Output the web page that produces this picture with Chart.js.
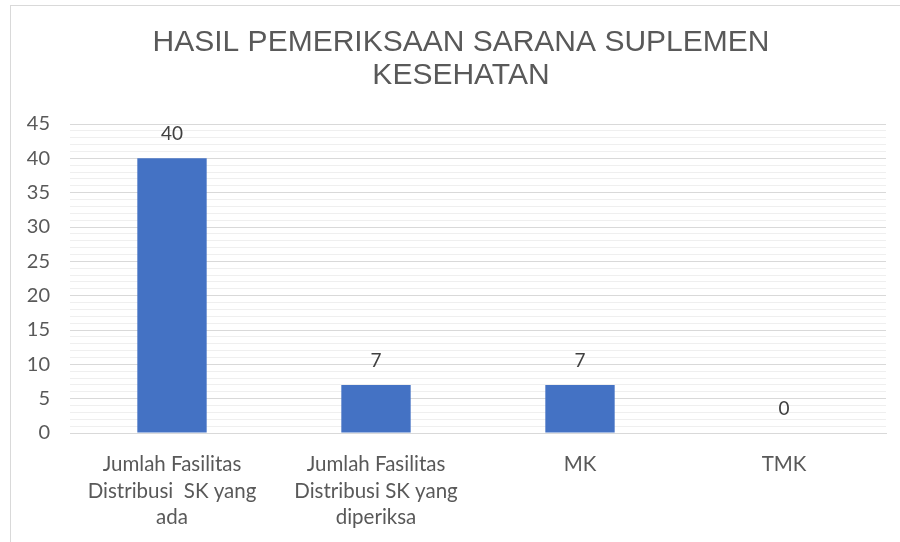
<!DOCTYPE html>
<html>
<head>
<meta charset="utf-8">
<script src="https://cdn.jsdelivr.net/npm/chart.js@4"></script>
<style>
  html, body { margin: 0; padding: 0; background: #fff; }
  #wrap { position: relative; width: 900px; height: 542px; }
  #frame { position: absolute; left: 10px; top: 5px; width: 960px; height: 600px;
           border-left: 1px solid #d9d9d9; border-top: 1px solid #d9d9d9; pointer-events: none; }
</style>
</head>
<body>
<div id="wrap">
  <canvas id="chart" width="900" height="542"></canvas>
  <div id="frame"></div>
</div>
<script>
const titleLines = ['HASIL PEMERIKSAAN SARANA SUPLEMEN', 'KESEHATAN'];
const categories = [
  ['Jumlah Fasilitas', 'Distribusi  SK yang', 'ada'],
  ['Jumlah Fasilitas', 'Distribusi SK yang', 'diperiksa'],
  'MK',
  'TMK'
];
const values = [40, 7, 7, 0];
const yMax = 45;

// title drawn by hand, Excel centres it on the whole chart box
const titlePlugin = {
  id: 'titlePlugin',
  afterDraw(chart) {
    const ctx = chart.ctx;
    ctx.save();
    ctx.font = '30px "Liberation Sans"';
    ctx.fillStyle = '#595959';
    ctx.textAlign = 'center';
    ctx.textBaseline = 'middle';
    titleLines.forEach((t, i) => ctx.fillText(t, 461, 42.5 + i * 33));
    ctx.restore();
  }
};

// value labels above bars
const valueLabels = {
  id: 'valueLabels',
  afterDatasetsDraw(chart) {
    const ctx = chart.ctx;
    const meta = chart.getDatasetMeta(0);
    ctx.save();
    ctx.font = '19px Lato';
    ctx.fillStyle = '#404040';
    ctx.textAlign = 'center';
    ctx.textBaseline = 'middle';
    meta.data.forEach((bar, i) => {
      ctx.fillText(values[i], bar.x, bar.y - 24);
    });
    ctx.restore();
  }
};

new Chart(document.getElementById('chart'), {
  type: 'bar',
  data: {
    labels: categories,
    datasets: [{
      data: values,
      backgroundColor: '#4472C4',
      borderWidth: 0,
      barPercentage: 0.34,
      categoryPercentage: 1
    }]
  },
  options: {
    responsive: false,
    animation: false,
    layout: { padding: { left: 10, right: 14, top: 124, bottom: 0 } },
    plugins: {
      legend: { display: false },
      tooltip: { enabled: false },
      title: { display: false }
    },
    scales: {
      x: {
        grid: { display: false, drawTicks: false },
        border: { color: '#d9d9d9' },
        ticks: {
          color: '#595959',
          font: { family: 'Lato', size: 20.5, lineHeight: 1.3 },
          padding: 18,
          maxRotation: 0
        },
        afterFit(scale) { scale.height = 109; }
      },
      y: {
        min: 0,
        max: yMax,
        grid: {
          drawTicks: false,
          color: ctx => (ctx.tick && ctx.tick.value % 5 === 0) ? '#d9d9d9' : '#efefef',
          lineWidth: 1
        },
        border: { display: false },
        ticks: {
          stepSize: 1,
          autoSkip: false,
          color: '#595959',
          font: { family: 'Lato', size: 20 },
          padding: 20,
          callback: v => (v % 5 === 0 ? v : '')
        },
        afterFit(scale) { scale.width = 60; }
      }
    }
  },
  plugins: [valueLabels, titlePlugin]
});
</script>
</body>
</html>
